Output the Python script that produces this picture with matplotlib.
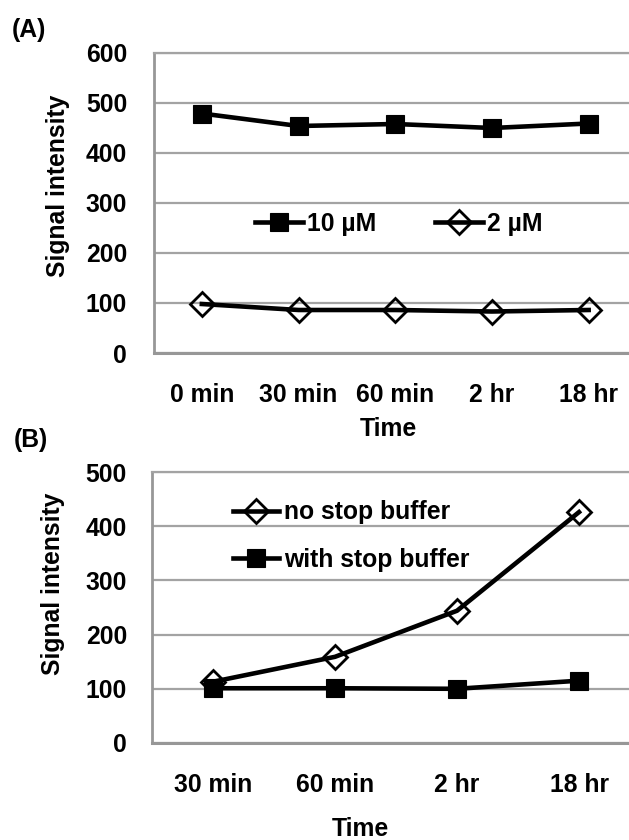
import matplotlib
matplotlib.use('Agg')
import matplotlib.pyplot as plt

plt.rcParams['font.family'] = ['Liberation Sans', 'DejaVu Sans']
plt.rcParams['font.weight'] = 'bold'

# ---- data ----
times_a = ['0 min', '30 min', '60 min', '2 hr', '18 hr']
conc_10uM = [479, 454, 458, 450, 459]
conc_2uM = [98, 86, 86, 83, 86]
yticks_a = [0, 100, 200, 300, 400, 500, 600]

times_b = ['30 min', '60 min', '2 hr', '18 hr']
no_stop = [113, 159, 244, 426]
with_stop = [101, 101, 100, 115]
yticks_b = [0, 100, 200, 300, 400, 500]

W, H = 629, 840
DPI = 100
fig = plt.figure(figsize=(W / DPI, H / DPI), dpi=DPI)

FS = 17.8
GRID = '#a3a3a3'
SPINE = '#979797'


def px_axes(left, top, right, bottom):
    return fig.add_axes([left / W, 1 - bottom / H, (right - left) / W, (bottom - top) / H])


def style(ax, yticks, n, xpad, ypad):
    ax.set_xlim(-0.5, n - 0.5)
    ax.set_ylim(yticks[0], yticks[-1])
    ax.set_yticks(yticks)
    ax.yaxis.grid(True, color=GRID, linewidth=1.6)
    ax.set_axisbelow(True)
    ax.spines['right'].set_visible(False)
    ax.spines['top'].set_color(GRID)
    ax.spines['top'].set_linewidth(1.6)
    ax.spines['left'].set_color(SPINE)
    ax.spines['left'].set_linewidth(2.0)
    ax.spines['bottom'].set_color(SPINE)
    ax.spines['bottom'].set_linewidth(2.2)
    ax.tick_params(axis='both', length=0, labelsize=FS)
    ax.tick_params(axis='x', pad=xpad)
    ax.tick_params(axis='y', pad=ypad)
    for lab in ax.get_xticklabels() + ax.get_yticklabels():
        lab.set_fontweight('bold')


sq = dict(marker='s', markersize=12.3, markerfacecolor='black',
          markeredgecolor='black', markeredgewidth=0.8, color='black', linewidth=3.3)
dm = dict(marker='D', markersize=11.8, markerfacecolor='none',
          markeredgecolor='black', markeredgewidth=2.0, color='black', linewidth=3.3)

# ---- panel A ----
axA = px_axes(153.5, 53, 637, 353)
xa = list(range(len(times_a)))
axA.plot(xa, conc_10uM, label='10 µM', **sq)
axA.plot(xa, conc_2uM, label='2 µM', **dm)
axA.set_xticks(xa)
axA.set_xticklabels(times_a)
style(axA, yticks_a, len(times_a), xpad=21.5, ypad=19)
legA = axA.legend(loc='center left', bbox_to_anchor=(0.2099, 0.43), ncol=2,
                  frameon=False, fontsize=FS, handlelength=1.95, handletextpad=0.17,
                  columnspacing=2.35, borderpad=0, borderaxespad=0)
for t in legA.get_texts():
    t.set_fontweight('bold')

# ---- panel B ----
axB = px_axes(152, 472, 640, 743)
xb = list(range(len(times_b)))
axB.plot(xb, no_stop, label='no stop buffer', **dm)
axB.plot(xb, with_stop, label='with stop buffer', **sq)
axB.set_xticks(xb)
axB.set_xticklabels(times_b)
style(axB, yticks_b, len(times_b), xpad=21.5, ypad=18)
legB = axB.legend(loc='center left', bbox_to_anchor=(0.166, 0.764), ncol=1,
                  frameon=False, fontsize=FS, handlelength=1.85, handletextpad=0.2,
                  labelspacing=0.95, borderpad=0, borderaxespad=0)
for t in legB.get_texts():
    t.set_fontweight('bold')

# ---- texts ----
fig.text(12 / W, 1 - 30 / H, '(A)', fontsize=FS, fontweight='bold', ha='left', va='center')
fig.text(14 / W, 1 - 440 / H, '(B)', fontsize=FS, fontweight='bold', ha='left', va='center')
fig.text(58 / W, 1 - 186 / H, 'Signal intensity', fontsize=FS, fontweight='bold',
         rotation=90, ha='center', va='center')
fig.text(53 / W, 1 - 584 / H, 'Signal intensity', fontsize=FS, fontweight='bold',
         rotation=90, ha='center', va='center')
fig.text(388 / W, 1 - 429 / H, 'Time', fontsize=FS, fontweight='bold', ha='center', va='center')
fig.text(360 / W, 1 - 829 / H, 'Time', fontsize=FS, fontweight='bold', ha='center', va='center')

fig.savefig('out.png', dpi=DPI)
